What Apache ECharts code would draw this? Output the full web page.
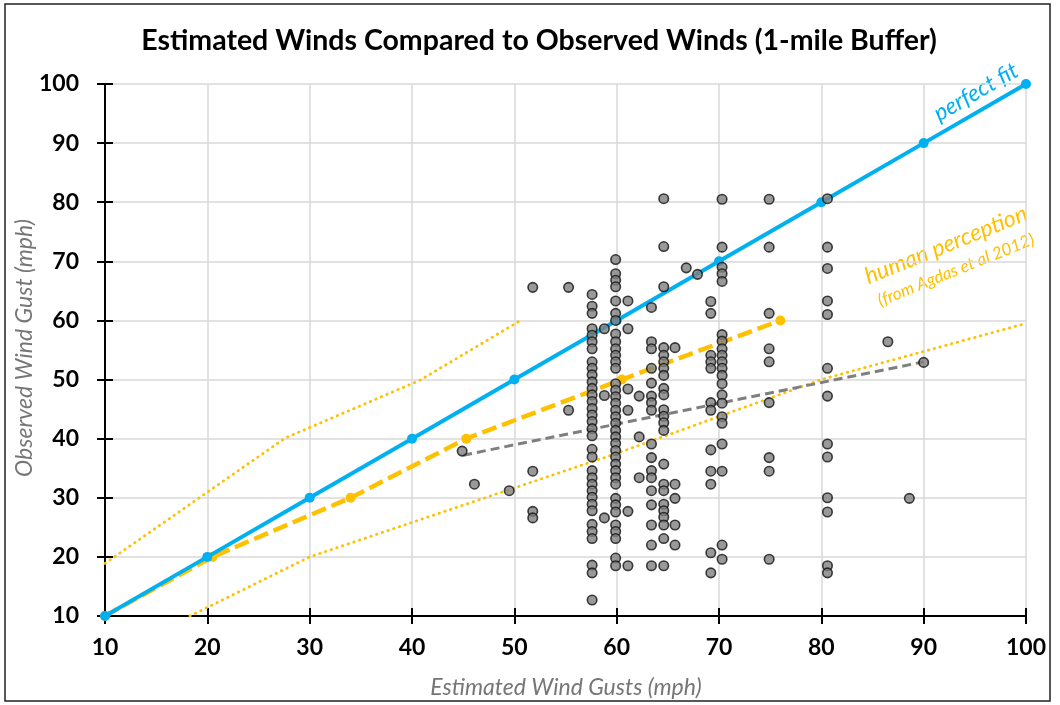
<!DOCTYPE html>
<html><head><meta charset="utf-8">
<script src="https://cdn.jsdelivr.net/npm/echarts@6/dist/echarts.min.js"></script>
<style>html,body{margin:0;padding:0;background:#fff}#c{width:1060px;height:705px}</style>
</head><body><div id="c"></div>
<script>
// Observed points, grouped by estimated-gust column (x) -> observed gusts (y)
const obsColumnsX = [44.9, 46.1, 49.5, 51.8, 55.3, 57.6, 58.8, 59.9, 61.1, 62.2, 63.4, 64.6, 65.7, 66.8, 67.9, 69.2, 70.3, 74.9, 80.6, 86.5, 88.6, 90.0];
const obsColumnsY = [
  [37.9],
  [32.3],
  [31.2],
  [65.6, 34.5, 27.7, 26.6],
  [65.6, 44.8],
  [64.4, 62.4, 61.2, 58.6, 57.5, 56.4, 55.2, 53.0, 51.9, 50.8, 49.6, 48.5, 47.4, 46.3, 45.1, 44.0, 42.9, 41.7, 40.5, 38.2, 36.9, 34.6, 33.4, 32.3, 31.2, 30.1, 28.9, 27.8, 25.5, 24.3, 23.1, 18.6, 17.3, 12.7],
  [58.6, 47.3, 26.6],
  [70.3, 67.9, 66.8, 65.7, 63.3, 61.2, 60.0, 57.7, 56.4, 55.2, 54.1, 53.0, 51.9, 49.3, 48.2, 47.1, 46.0, 44.8, 43.7, 42.6, 41.4, 40.3, 39.2, 38.0, 36.9, 35.7, 34.6, 33.4, 32.3, 29.9, 28.8, 27.6, 25.4, 24.3, 23.1, 19.8, 18.5],
  [63.3, 58.6, 48.4, 44.8, 27.7, 18.5],
  [47.2, 40.3, 33.4],
  [62.2, 56.4, 55.2, 51.9, 49.4, 47.2, 46.1, 44.8, 39.1, 36.8, 34.6, 33.4, 31.2, 28.8, 25.4, 22.0, 18.5],
  [80.6, 72.5, 65.7, 55.4, 54.1, 53.0, 51.9, 50.7, 48.5, 47.4, 44.9, 43.8, 42.7, 41.4, 35.7, 32.3, 31.2, 28.9, 27.8, 26.7, 25.4, 23.1, 18.5],
  [55.4, 32.3, 29.9, 25.4, 22.0],
  [68.9],
  [67.8],
  [63.2, 61.2, 54.1, 53.0, 51.9, 46.1, 44.8, 38.1, 34.5, 32.3, 20.7, 17.3],
  [80.5, 72.4, 69.0, 67.9, 66.6, 57.6, 56.5, 55.2, 54.1, 53.0, 51.9, 50.7, 49.3, 47.4, 46.0, 43.7, 42.6, 39.1, 34.5, 22.0, 19.6],
  [80.5, 72.4, 61.2, 55.2, 53.0, 46.1, 36.8, 34.5, 19.6],
  [80.6, 72.4, 68.8, 63.3, 61.0, 51.9, 47.2, 39.1, 36.9, 30.0, 27.6, 18.5, 17.3],
  [56.4],
  [29.9],
  [52.9]
];
// Perfect fit line
const perfectX = [10, 20, 30, 40, 50, 60, 70, 80, 90, 100];
const perfectY = [10, 20, 30, 40, 50, 60, 70, 80, 90, 100];
// Human perception (Agdas et al 2012)
const perceptionX = [10, 20.5, 34, 45.3, 60.5, 76];
const perceptionY = [10, 20, 30, 40, 50, 60];
const upperBandX = [10, 27.6, 40.8, 50.6];
const upperBandY = [18.9, 40.1, 49.9, 60];
const lowerBandX = [18.3, 30, 60, 80, 100];
const lowerBandY = [10, 20, 37.5, 50, 59.5];
// Trend of observations
const trendX = [45, 90];
const trendY = [37.2, 53];
// Axis
const axisMin = 10, axisMax = 100, axisStep = 10;

const pair = (xs, ys) => xs.map((x, i) => [x, ys[i]]);
const obsPoints = [];
obsColumnsX.forEach((x, i) => obsColumnsY[i].forEach(y => obsPoints.push([x, y])));

const FONT = 'Lato';
const BLUE = '#00B0F0', ORANGE = '#FFC000', GRAY = '#7F7F7F';

function mainAxis(isX) {
  return {
    type: 'value', min: axisMin, max: axisMax, interval: axisStep,
    axisLine: { show: true, onZero: false, lineStyle: { color: '#000', width: 2 } },
    axisTick: { show: true, length: 8, lineStyle: { color: '#000', width: 2 } },
    axisLabel: { fontFamily: FONT, fontWeight: 'bold', fontSize: 23, color: '#000', margin: isX ? 20 : 26 },
    splitLine: { show: true, lineStyle: { color: '#D9D9D9', width: 1.5 } }
  };
}
function innerTickAxis() {
  return {
    type: 'value', min: axisMin, max: axisMax, interval: axisStep,
    axisLine: { show: false, onZero: false },
    axisTick: { show: true, inside: true, length: 8, lineStyle: { color: '#000', width: 2 } },
    axisLabel: { show: false }, splitLine: { show: false }
  };
}

const chart = echarts.init(document.getElementById('c'), null, { renderer: 'canvas' });
chart.setOption({
  backgroundColor: '#fff',
  animation: false,
  title: {
    text: 'Estimated Winds Compared to Observed Winds (1-mile Buffer)',
    left: 534, top: 21, textAlign: 'center',
    textStyle: { fontFamily: FONT, fontWeight: 'bold', fontSize: 28.5, color: '#000' }
  },
  grid: { left: 105, right: 34, top: 84, bottom: 89, containLabel: false },
  xAxis: [Object.assign(mainAxis(true), { position: 'bottom' }), Object.assign(innerTickAxis(), { position: 'bottom' })],
  yAxis: [Object.assign(mainAxis(false), { position: 'left' }), Object.assign(innerTickAxis(), { position: 'left' })],
  series: [
    { type: 'line', name: 'upper band', data: pair(upperBandX, upperBandY), symbol: 'none', z: 2,
      lineStyle: { color: ORANGE, width: 2.8, type: [0.5, 5.5], cap: 'round' } },
    { type: 'line', name: 'lower band', data: pair(lowerBandX, lowerBandY), symbol: 'none', z: 2,
      lineStyle: { color: ORANGE, width: 2.8, type: [0.5, 5.5], cap: 'round' } },
    { type: 'line', name: 'trend', data: pair(trendX, trendY), symbol: 'none', z: 3,
      lineStyle: { color: GRAY, width: 3, type: [9, 5] } },
    { type: 'line', name: 'human perception', data: pair(perceptionX, perceptionY), z: 4,
      symbol: 'circle', symbolSize: 10, itemStyle: { color: ORANGE },
      lineStyle: { color: ORANGE, width: 4.5, type: [15, 6] } },
    { type: 'line', name: 'perfect fit', data: pair(perfectX, perfectY), z: 5,
      symbol: 'circle', symbolSize: 10, itemStyle: { color: BLUE },
      lineStyle: { color: BLUE, width: 4 } },
    { type: 'scatter', name: 'observed', data: obsPoints, z: 6, symbolSize: 9.5,
      itemStyle: { color: '#7F7F7F', borderColor: '#111', borderWidth: 1.6 } }
  ],
  graphic: [
    { type: 'rect', shape: { x: 5, y: 4, width: 1045, height: 697 }, silent: true, z: -1,
      style: { fill: null, stroke: '#222', lineWidth: 1.5 } },
    { type: 'text', x: 566, y: 688, silent: true,
      style: { text: 'Estimated Wind Gusts (mph)', fontFamily: FONT, fontStyle: 'italic', fontSize: 23, fill: '#767676', textAlign: 'center', textVerticalAlign: 'middle' } },
    { type: 'text', x: 25, y: 348, rotation: Math.PI / 2, silent: true,
      style: { text: 'Observed Wind Gust (mph)', fontFamily: FONT, fontStyle: 'italic', fontSize: 23, fill: '#767676', textAlign: 'center', textVerticalAlign: 'middle' } },
    { type: 'text', x: 976, y: 92, rotation: 30 * Math.PI / 180, silent: true,
      style: { text: 'perfect fit', fontFamily: FONT, fontStyle: 'italic', fontSize: 23, fill: BLUE, textAlign: 'center', textVerticalAlign: 'middle' } },
    { type: 'text', x: 946, y: 245, rotation: 22 * Math.PI / 180, silent: true,
      style: { text: 'human perception', fontFamily: FONT, fontStyle: 'italic', fontSize: 23, fill: ORANGE, textAlign: 'center', textVerticalAlign: 'middle' } },
    { type: 'text', x: 956, y: 270, rotation: 22 * Math.PI / 180, silent: true,
      style: { text: '(from Agdas et al 2012)', fontFamily: FONT, fontStyle: 'italic', fontSize: 17, fill: ORANGE, textAlign: 'center', textVerticalAlign: 'middle' } }
  ]
});
</script>
</body></html>
